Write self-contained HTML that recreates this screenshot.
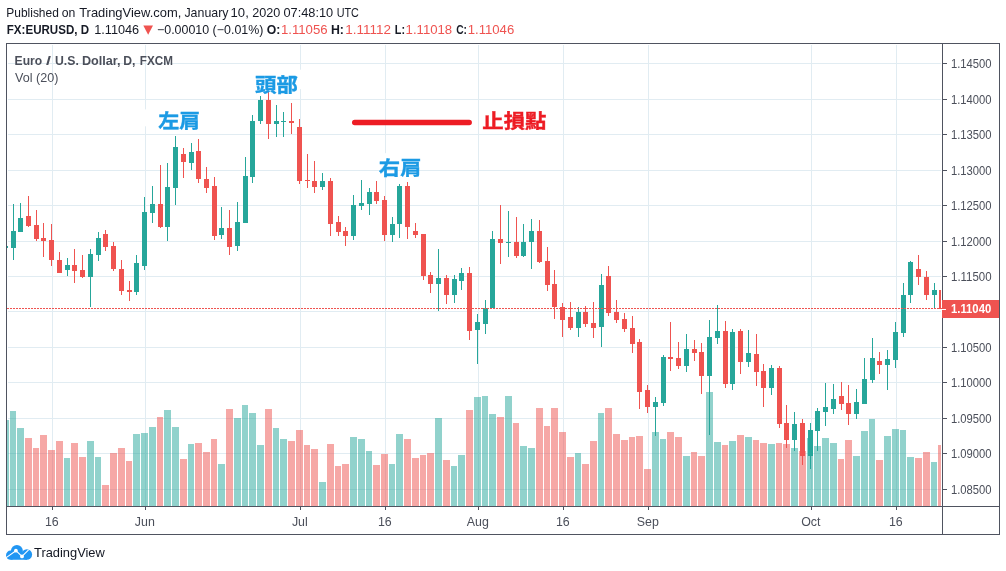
<!DOCTYPE html>
<html lang="en"><head><meta charset="utf-8"><title>EURUSD</title>
<style>html,body{margin:0;padding:0;background:#fff;width:1006px;height:571px;overflow:hidden}</style></head>
<body>
<svg width="1006" height="571" viewBox="0 0 1006 571" style="display:block;position:absolute;left:0;top:0">
<rect width="1006" height="571" fill="#fff"/>
<defs><clipPath id="plot"><rect x="7" y="44" width="934" height="462"/></clipPath></defs>
<g shape-rendering="crispEdges" fill="#e1ecf2">
<rect x="8" y="63" width="933" height="1"/>
<rect x="8" y="99" width="933" height="1"/>
<rect x="8" y="134" width="933" height="1"/>
<rect x="8" y="170" width="933" height="1"/>
<rect x="8" y="205" width="933" height="1"/>
<rect x="8" y="241" width="933" height="1"/>
<rect x="8" y="276" width="933" height="1"/>
<rect x="8" y="311" width="933" height="1"/>
<rect x="8" y="347" width="933" height="1"/>
<rect x="8" y="382" width="933" height="1"/>
<rect x="8" y="418" width="933" height="1"/>
<rect x="8" y="453" width="933" height="1"/>
<rect x="8" y="489" width="933" height="1"/>
<rect x="52" y="45" width="1" height="461"/>
<rect x="145" y="45" width="1" height="461"/>
<rect x="300" y="45" width="1" height="461"/>
<rect x="385" y="45" width="1" height="461"/>
<rect x="478" y="45" width="1" height="461"/>
<rect x="563" y="45" width="1" height="461"/>
<rect x="648" y="45" width="1" height="461"/>
<rect x="811" y="45" width="1" height="461"/>
<rect x="896" y="45" width="1" height="461"/>
</g>
<g clip-path="url(#plot)" shape-rendering="crispEdges">
<g opacity="0.5">
<rect x="2" y="420" width="7" height="86" fill="#26a69a"/>
<rect x="10" y="411" width="6" height="95" fill="#26a69a"/>
<rect x="17" y="428" width="7" height="78" fill="#26a69a"/>
<rect x="25" y="438" width="7" height="68" fill="#ef5350"/>
<rect x="33" y="448" width="6" height="58" fill="#ef5350"/>
<rect x="40" y="435" width="7" height="71" fill="#ef5350"/>
<rect x="48" y="450" width="7" height="56" fill="#ef5350"/>
<rect x="56" y="441" width="7" height="65" fill="#ef5350"/>
<rect x="64" y="458" width="6" height="48" fill="#26a69a"/>
<rect x="71" y="443" width="7" height="63" fill="#ef5350"/>
<rect x="79" y="457" width="7" height="49" fill="#ef5350"/>
<rect x="87" y="441" width="7" height="65" fill="#26a69a"/>
<rect x="95" y="457" width="6" height="49" fill="#26a69a"/>
<rect x="102" y="485" width="7" height="21" fill="#ef5350"/>
<rect x="110" y="453" width="7" height="53" fill="#ef5350"/>
<rect x="118" y="448" width="7" height="58" fill="#ef5350"/>
<rect x="126" y="461" width="6" height="45" fill="#ef5350"/>
<rect x="133" y="434" width="7" height="72" fill="#26a69a"/>
<rect x="141" y="433" width="7" height="73" fill="#26a69a"/>
<rect x="149" y="427" width="7" height="79" fill="#26a69a"/>
<rect x="157" y="417" width="6" height="89" fill="#ef5350"/>
<rect x="164" y="410" width="7" height="96" fill="#26a69a"/>
<rect x="172" y="427" width="7" height="79" fill="#26a69a"/>
<rect x="180" y="459" width="7" height="47" fill="#ef5350"/>
<rect x="188" y="444" width="6" height="62" fill="#26a69a"/>
<rect x="195" y="443" width="7" height="63" fill="#ef5350"/>
<rect x="203" y="452" width="7" height="54" fill="#ef5350"/>
<rect x="211" y="439" width="6" height="67" fill="#ef5350"/>
<rect x="218" y="464" width="7" height="42" fill="#26a69a"/>
<rect x="226" y="409" width="7" height="97" fill="#ef5350"/>
<rect x="234" y="418" width="7" height="88" fill="#26a69a"/>
<rect x="242" y="405" width="6" height="101" fill="#26a69a"/>
<rect x="249" y="413" width="7" height="93" fill="#26a69a"/>
<rect x="257" y="445" width="7" height="61" fill="#26a69a"/>
<rect x="265" y="409" width="7" height="97" fill="#ef5350"/>
<rect x="273" y="428" width="6" height="78" fill="#26a69a"/>
<rect x="280" y="439" width="7" height="67" fill="#26a69a"/>
<rect x="288" y="441" width="7" height="65" fill="#ef5350"/>
<rect x="296" y="430" width="7" height="76" fill="#ef5350"/>
<rect x="304" y="445" width="6" height="61" fill="#ef5350"/>
<rect x="311" y="449" width="7" height="57" fill="#ef5350"/>
<rect x="319" y="482" width="7" height="24" fill="#26a69a"/>
<rect x="327" y="444" width="7" height="62" fill="#ef5350"/>
<rect x="335" y="466" width="6" height="40" fill="#ef5350"/>
<rect x="342" y="464" width="7" height="42" fill="#ef5350"/>
<rect x="350" y="437" width="7" height="69" fill="#26a69a"/>
<rect x="358" y="439" width="7" height="67" fill="#26a69a"/>
<rect x="366" y="451" width="6" height="55" fill="#26a69a"/>
<rect x="373" y="465" width="7" height="41" fill="#ef5350"/>
<rect x="381" y="454" width="7" height="52" fill="#ef5350"/>
<rect x="389" y="464" width="6" height="42" fill="#26a69a"/>
<rect x="396" y="434" width="7" height="72" fill="#26a69a"/>
<rect x="404" y="439" width="7" height="67" fill="#ef5350"/>
<rect x="412" y="458" width="7" height="48" fill="#ef5350"/>
<rect x="420" y="455" width="6" height="51" fill="#ef5350"/>
<rect x="427" y="453" width="7" height="53" fill="#ef5350"/>
<rect x="435" y="418" width="7" height="88" fill="#26a69a"/>
<rect x="443" y="460" width="7" height="46" fill="#ef5350"/>
<rect x="451" y="466" width="6" height="40" fill="#26a69a"/>
<rect x="458" y="455" width="7" height="51" fill="#26a69a"/>
<rect x="466" y="410" width="7" height="96" fill="#ef5350"/>
<rect x="474" y="397" width="7" height="109" fill="#26a69a"/>
<rect x="482" y="396" width="6" height="110" fill="#26a69a"/>
<rect x="489" y="414" width="7" height="92" fill="#26a69a"/>
<rect x="497" y="417" width="7" height="89" fill="#ef5350"/>
<rect x="505" y="396" width="7" height="110" fill="#26a69a"/>
<rect x="513" y="423" width="6" height="83" fill="#ef5350"/>
<rect x="520" y="446" width="7" height="60" fill="#26a69a"/>
<rect x="528" y="448" width="7" height="58" fill="#26a69a"/>
<rect x="536" y="408" width="7" height="98" fill="#ef5350"/>
<rect x="544" y="426" width="6" height="80" fill="#ef5350"/>
<rect x="551" y="408" width="7" height="98" fill="#ef5350"/>
<rect x="559" y="432" width="7" height="74" fill="#ef5350"/>
<rect x="567" y="457" width="7" height="49" fill="#ef5350"/>
<rect x="575" y="453" width="6" height="53" fill="#26a69a"/>
<rect x="582" y="464" width="7" height="42" fill="#ef5350"/>
<rect x="590" y="441" width="7" height="65" fill="#ef5350"/>
<rect x="598" y="413" width="6" height="93" fill="#26a69a"/>
<rect x="605" y="408" width="7" height="98" fill="#ef5350"/>
<rect x="613" y="434" width="7" height="72" fill="#ef5350"/>
<rect x="621" y="440" width="7" height="66" fill="#ef5350"/>
<rect x="629" y="437" width="6" height="69" fill="#ef5350"/>
<rect x="636" y="436" width="7" height="70" fill="#ef5350"/>
<rect x="644" y="469" width="7" height="37" fill="#ef5350"/>
<rect x="652" y="432" width="7" height="74" fill="#26a69a"/>
<rect x="660" y="439" width="6" height="67" fill="#26a69a"/>
<rect x="667" y="432" width="7" height="74" fill="#ef5350"/>
<rect x="675" y="437" width="7" height="69" fill="#ef5350"/>
<rect x="683" y="456" width="7" height="50" fill="#26a69a"/>
<rect x="691" y="452" width="6" height="54" fill="#ef5350"/>
<rect x="698" y="456" width="7" height="50" fill="#ef5350"/>
<rect x="706" y="392" width="7" height="114" fill="#26a69a"/>
<rect x="714" y="442" width="7" height="64" fill="#26a69a"/>
<rect x="722" y="445" width="6" height="61" fill="#ef5350"/>
<rect x="729" y="441" width="7" height="65" fill="#26a69a"/>
<rect x="737" y="435" width="7" height="71" fill="#ef5350"/>
<rect x="745" y="437" width="7" height="69" fill="#26a69a"/>
<rect x="753" y="440" width="6" height="66" fill="#ef5350"/>
<rect x="760" y="443" width="7" height="63" fill="#ef5350"/>
<rect x="768" y="444" width="7" height="62" fill="#26a69a"/>
<rect x="776" y="443" width="6" height="63" fill="#ef5350"/>
<rect x="783" y="444" width="7" height="62" fill="#ef5350"/>
<rect x="791" y="448" width="7" height="58" fill="#26a69a"/>
<rect x="799" y="451" width="7" height="55" fill="#ef5350"/>
<rect x="807" y="438" width="6" height="68" fill="#26a69a"/>
<rect x="814" y="446" width="7" height="60" fill="#26a69a"/>
<rect x="822" y="438" width="7" height="68" fill="#26a69a"/>
<rect x="830" y="443" width="7" height="63" fill="#26a69a"/>
<rect x="838" y="459" width="6" height="47" fill="#ef5350"/>
<rect x="845" y="440" width="7" height="66" fill="#ef5350"/>
<rect x="853" y="456" width="7" height="50" fill="#26a69a"/>
<rect x="861" y="431" width="7" height="75" fill="#26a69a"/>
<rect x="869" y="419" width="6" height="87" fill="#26a69a"/>
<rect x="876" y="460" width="7" height="46" fill="#ef5350"/>
<rect x="884" y="436" width="7" height="70" fill="#26a69a"/>
<rect x="892" y="429" width="7" height="77" fill="#26a69a"/>
<rect x="900" y="430" width="6" height="76" fill="#26a69a"/>
<rect x="907" y="457" width="7" height="49" fill="#26a69a"/>
<rect x="915" y="458" width="7" height="48" fill="#ef5350"/>
<rect x="923" y="452" width="7" height="54" fill="#ef5350"/>
<rect x="931" y="462" width="6" height="44" fill="#26a69a"/>
<rect x="938" y="445" width="7" height="61" fill="#ef5350"/>
</g>
<rect x="5" y="240" width="1" height="12" fill="#26a69a"/><rect x="3" y="246" width="5" height="2" fill="#26a69a"/>
<rect x="13" y="204" width="1" height="56" fill="#26a69a"/><rect x="11" y="231" width="5" height="17" fill="#26a69a"/>
<rect x="20" y="203" width="1" height="29" fill="#26a69a"/><rect x="18" y="218" width="5" height="14" fill="#26a69a"/>
<rect x="28" y="196" width="1" height="31" fill="#ef5350"/><rect x="26" y="216" width="5" height="10" fill="#ef5350"/>
<rect x="36" y="210" width="1" height="31" fill="#ef5350"/><rect x="34" y="225" width="5" height="14" fill="#ef5350"/>
<rect x="43" y="223" width="1" height="34" fill="#ef5350"/><rect x="41" y="238" width="5" height="3" fill="#ef5350"/>
<rect x="51" y="224" width="1" height="42" fill="#ef5350"/><rect x="49" y="240" width="5" height="20" fill="#ef5350"/>
<rect x="59" y="252" width="1" height="21" fill="#ef5350"/><rect x="57" y="260" width="5" height="13" fill="#ef5350"/>
<rect x="67" y="258" width="1" height="18" fill="#26a69a"/><rect x="65" y="265" width="5" height="5" fill="#26a69a"/>
<rect x="74" y="249" width="1" height="34" fill="#ef5350"/><rect x="72" y="265" width="5" height="6" fill="#ef5350"/>
<rect x="82" y="255" width="1" height="23" fill="#ef5350"/><rect x="80" y="270" width="5" height="7" fill="#ef5350"/>
<rect x="90" y="249" width="1" height="58" fill="#26a69a"/><rect x="88" y="254" width="5" height="23" fill="#26a69a"/>
<rect x="98" y="232" width="1" height="29" fill="#26a69a"/><rect x="96" y="238" width="5" height="17" fill="#26a69a"/>
<rect x="105" y="230" width="1" height="21" fill="#ef5350"/><rect x="103" y="234" width="5" height="13" fill="#ef5350"/>
<rect x="113" y="242" width="1" height="29" fill="#ef5350"/><rect x="111" y="246" width="5" height="23" fill="#ef5350"/>
<rect x="121" y="260" width="1" height="35" fill="#ef5350"/><rect x="119" y="269" width="5" height="22" fill="#ef5350"/>
<rect x="129" y="281" width="1" height="20" fill="#ef5350"/><rect x="127" y="290" width="5" height="2" fill="#ef5350"/>
<rect x="136" y="255" width="1" height="40" fill="#26a69a"/><rect x="134" y="263" width="5" height="29" fill="#26a69a"/>
<rect x="144" y="197" width="1" height="73" fill="#26a69a"/><rect x="142" y="212" width="5" height="54" fill="#26a69a"/>
<rect x="152" y="186" width="1" height="37" fill="#26a69a"/><rect x="150" y="204" width="5" height="9" fill="#26a69a"/>
<rect x="160" y="165" width="1" height="63" fill="#ef5350"/><rect x="158" y="204" width="5" height="23" fill="#ef5350"/>
<rect x="167" y="163" width="1" height="78" fill="#26a69a"/><rect x="165" y="187" width="5" height="40" fill="#26a69a"/>
<rect x="175" y="136" width="1" height="69" fill="#26a69a"/><rect x="173" y="147" width="5" height="41" fill="#26a69a"/>
<rect x="183" y="148" width="1" height="30" fill="#ef5350"/><rect x="181" y="154" width="5" height="8" fill="#ef5350"/>
<rect x="191" y="143" width="1" height="27" fill="#26a69a"/><rect x="189" y="152" width="5" height="11" fill="#26a69a"/>
<rect x="198" y="139" width="1" height="44" fill="#ef5350"/><rect x="196" y="151" width="5" height="28" fill="#ef5350"/>
<rect x="206" y="167" width="1" height="26" fill="#ef5350"/><rect x="204" y="179" width="5" height="9" fill="#ef5350"/>
<rect x="214" y="177" width="1" height="63" fill="#ef5350"/><rect x="212" y="186" width="5" height="50" fill="#ef5350"/>
<rect x="221" y="207" width="1" height="32" fill="#26a69a"/><rect x="219" y="228" width="5" height="7" fill="#26a69a"/>
<rect x="229" y="210" width="1" height="45" fill="#ef5350"/><rect x="227" y="228" width="5" height="19" fill="#ef5350"/>
<rect x="237" y="202" width="1" height="49" fill="#26a69a"/><rect x="235" y="222" width="5" height="24" fill="#26a69a"/>
<rect x="245" y="157" width="1" height="66" fill="#26a69a"/><rect x="243" y="176" width="5" height="47" fill="#26a69a"/>
<rect x="252" y="115" width="1" height="68" fill="#26a69a"/><rect x="250" y="121" width="5" height="56" fill="#26a69a"/>
<rect x="260" y="96" width="1" height="28" fill="#26a69a"/><rect x="258" y="100" width="5" height="21" fill="#26a69a"/>
<rect x="268" y="92" width="1" height="47" fill="#ef5350"/><rect x="266" y="100" width="5" height="24" fill="#ef5350"/>
<rect x="276" y="105" width="1" height="32" fill="#26a69a"/><rect x="274" y="121" width="5" height="3" fill="#26a69a"/>
<rect x="283" y="112" width="1" height="25" fill="#26a69a"/><rect x="281" y="121" width="5" height="1" fill="#26a69a"/>
<rect x="291" y="103" width="1" height="31" fill="#ef5350"/><rect x="289" y="121" width="5" height="2" fill="#ef5350"/>
<rect x="299" y="119" width="1" height="65" fill="#ef5350"/><rect x="297" y="127" width="5" height="54" fill="#ef5350"/>
<rect x="307" y="154" width="1" height="34" fill="#ef5350"/><rect x="305" y="180" width="5" height="1" fill="#ef5350"/>
<rect x="314" y="161" width="1" height="32" fill="#ef5350"/><rect x="312" y="181" width="5" height="6" fill="#ef5350"/>
<rect x="322" y="173" width="1" height="17" fill="#26a69a"/><rect x="320" y="181" width="5" height="6" fill="#26a69a"/>
<rect x="330" y="178" width="1" height="58" fill="#ef5350"/><rect x="328" y="181" width="5" height="43" fill="#ef5350"/>
<rect x="338" y="216" width="1" height="20" fill="#ef5350"/><rect x="336" y="222" width="5" height="10" fill="#ef5350"/>
<rect x="345" y="227" width="1" height="19" fill="#ef5350"/><rect x="343" y="231" width="5" height="5" fill="#ef5350"/>
<rect x="353" y="195" width="1" height="45" fill="#26a69a"/><rect x="351" y="205" width="5" height="31" fill="#26a69a"/>
<rect x="361" y="180" width="1" height="30" fill="#26a69a"/><rect x="359" y="203" width="5" height="3" fill="#26a69a"/>
<rect x="369" y="188" width="1" height="27" fill="#26a69a"/><rect x="367" y="192" width="5" height="12" fill="#26a69a"/>
<rect x="376" y="181" width="1" height="23" fill="#ef5350"/><rect x="374" y="192" width="5" height="9" fill="#ef5350"/>
<rect x="384" y="196" width="1" height="45" fill="#ef5350"/><rect x="382" y="200" width="5" height="35" fill="#ef5350"/>
<rect x="392" y="217" width="1" height="25" fill="#26a69a"/><rect x="390" y="224" width="5" height="11" fill="#26a69a"/>
<rect x="399" y="184" width="1" height="54" fill="#26a69a"/><rect x="397" y="186" width="5" height="38" fill="#26a69a"/>
<rect x="407" y="182" width="1" height="57" fill="#ef5350"/><rect x="405" y="186" width="5" height="41" fill="#ef5350"/>
<rect x="415" y="223" width="1" height="15" fill="#ef5350"/><rect x="413" y="231" width="5" height="4" fill="#ef5350"/>
<rect x="423" y="234" width="1" height="46" fill="#ef5350"/><rect x="421" y="234" width="5" height="42" fill="#ef5350"/>
<rect x="430" y="272" width="1" height="21" fill="#ef5350"/><rect x="428" y="275" width="5" height="9" fill="#ef5350"/>
<rect x="438" y="249" width="1" height="62" fill="#26a69a"/><rect x="436" y="278" width="5" height="6" fill="#26a69a"/>
<rect x="446" y="275" width="1" height="29" fill="#ef5350"/><rect x="444" y="278" width="5" height="17" fill="#ef5350"/>
<rect x="454" y="275" width="1" height="28" fill="#26a69a"/><rect x="452" y="279" width="5" height="16" fill="#26a69a"/>
<rect x="461" y="268" width="1" height="22" fill="#26a69a"/><rect x="459" y="273" width="5" height="8" fill="#26a69a"/>
<rect x="469" y="267" width="1" height="73" fill="#ef5350"/><rect x="467" y="273" width="5" height="58" fill="#ef5350"/>
<rect x="477" y="314" width="1" height="50" fill="#26a69a"/><rect x="475" y="322" width="5" height="8" fill="#26a69a"/>
<rect x="485" y="300" width="1" height="34" fill="#26a69a"/><rect x="483" y="308" width="5" height="16" fill="#26a69a"/>
<rect x="492" y="231" width="1" height="77" fill="#26a69a"/><rect x="490" y="239" width="5" height="69" fill="#26a69a"/>
<rect x="500" y="205" width="1" height="59" fill="#ef5350"/><rect x="498" y="239" width="5" height="4" fill="#ef5350"/>
<rect x="508" y="211" width="1" height="46" fill="#26a69a"/><rect x="506" y="242" width="5" height="1" fill="#26a69a"/>
<rect x="516" y="217" width="1" height="41" fill="#ef5350"/><rect x="514" y="242" width="5" height="14" fill="#ef5350"/>
<rect x="523" y="224" width="1" height="33" fill="#26a69a"/><rect x="521" y="242" width="5" height="14" fill="#26a69a"/>
<rect x="531" y="219" width="1" height="50" fill="#26a69a"/><rect x="529" y="231" width="5" height="11" fill="#26a69a"/>
<rect x="539" y="220" width="1" height="43" fill="#ef5350"/><rect x="537" y="231" width="5" height="31" fill="#ef5350"/>
<rect x="547" y="247" width="1" height="44" fill="#ef5350"/><rect x="545" y="261" width="5" height="24" fill="#ef5350"/>
<rect x="554" y="270" width="1" height="49" fill="#ef5350"/><rect x="552" y="284" width="5" height="23" fill="#ef5350"/>
<rect x="562" y="303" width="1" height="34" fill="#ef5350"/><rect x="560" y="307" width="5" height="13" fill="#ef5350"/>
<rect x="570" y="302" width="1" height="28" fill="#ef5350"/><rect x="568" y="317" width="5" height="11" fill="#ef5350"/>
<rect x="578" y="307" width="1" height="30" fill="#26a69a"/><rect x="576" y="312" width="5" height="16" fill="#26a69a"/>
<rect x="585" y="306" width="1" height="21" fill="#ef5350"/><rect x="583" y="312" width="5" height="12" fill="#ef5350"/>
<rect x="593" y="302" width="1" height="36" fill="#ef5350"/><rect x="591" y="323" width="5" height="5" fill="#ef5350"/>
<rect x="601" y="274" width="1" height="73" fill="#26a69a"/><rect x="599" y="285" width="5" height="42" fill="#26a69a"/>
<rect x="608" y="266" width="1" height="50" fill="#ef5350"/><rect x="606" y="276" width="5" height="37" fill="#ef5350"/>
<rect x="616" y="300" width="1" height="23" fill="#ef5350"/><rect x="614" y="312" width="5" height="8" fill="#ef5350"/>
<rect x="624" y="313" width="1" height="19" fill="#ef5350"/><rect x="622" y="319" width="5" height="10" fill="#ef5350"/>
<rect x="632" y="316" width="1" height="37" fill="#ef5350"/><rect x="630" y="328" width="5" height="16" fill="#ef5350"/>
<rect x="639" y="339" width="1" height="70" fill="#ef5350"/><rect x="637" y="342" width="5" height="50" fill="#ef5350"/>
<rect x="647" y="385" width="1" height="28" fill="#ef5350"/><rect x="645" y="390" width="5" height="17" fill="#ef5350"/>
<rect x="655" y="397" width="1" height="39" fill="#26a69a"/><rect x="653" y="402" width="5" height="5" fill="#26a69a"/>
<rect x="663" y="355" width="1" height="51" fill="#26a69a"/><rect x="661" y="357" width="5" height="46" fill="#26a69a"/>
<rect x="670" y="322" width="1" height="49" fill="#ef5350"/><rect x="668" y="357" width="5" height="2" fill="#ef5350"/>
<rect x="678" y="342" width="1" height="27" fill="#ef5350"/><rect x="676" y="358" width="5" height="8" fill="#ef5350"/>
<rect x="686" y="334" width="1" height="38" fill="#26a69a"/><rect x="684" y="349" width="5" height="17" fill="#26a69a"/>
<rect x="694" y="340" width="1" height="21" fill="#ef5350"/><rect x="692" y="349" width="5" height="4" fill="#ef5350"/>
<rect x="701" y="343" width="1" height="51" fill="#ef5350"/><rect x="699" y="352" width="5" height="24" fill="#ef5350"/>
<rect x="709" y="320" width="1" height="115" fill="#26a69a"/><rect x="707" y="337" width="5" height="39" fill="#26a69a"/>
<rect x="717" y="305" width="1" height="39" fill="#26a69a"/><rect x="715" y="331" width="5" height="7" fill="#26a69a"/>
<rect x="725" y="321" width="1" height="67" fill="#ef5350"/><rect x="723" y="331" width="5" height="53" fill="#ef5350"/>
<rect x="732" y="329" width="1" height="61" fill="#26a69a"/><rect x="730" y="332" width="5" height="52" fill="#26a69a"/>
<rect x="740" y="329" width="1" height="45" fill="#ef5350"/><rect x="738" y="331" width="5" height="31" fill="#ef5350"/>
<rect x="748" y="330" width="1" height="37" fill="#26a69a"/><rect x="746" y="353" width="5" height="9" fill="#26a69a"/>
<rect x="756" y="334" width="1" height="52" fill="#ef5350"/><rect x="754" y="354" width="5" height="18" fill="#ef5350"/>
<rect x="763" y="364" width="1" height="43" fill="#ef5350"/><rect x="761" y="371" width="5" height="17" fill="#ef5350"/>
<rect x="771" y="365" width="1" height="30" fill="#26a69a"/><rect x="769" y="368" width="5" height="20" fill="#26a69a"/>
<rect x="779" y="366" width="1" height="62" fill="#ef5350"/><rect x="777" y="368" width="5" height="56" fill="#ef5350"/>
<rect x="786" y="405" width="1" height="43" fill="#ef5350"/><rect x="784" y="423" width="5" height="17" fill="#ef5350"/>
<rect x="794" y="412" width="1" height="39" fill="#26a69a"/><rect x="792" y="424" width="5" height="16" fill="#26a69a"/>
<rect x="802" y="419" width="1" height="46" fill="#ef5350"/><rect x="800" y="423" width="5" height="33" fill="#ef5350"/>
<rect x="810" y="423" width="1" height="46" fill="#26a69a"/><rect x="808" y="430" width="5" height="26" fill="#26a69a"/>
<rect x="817" y="408" width="1" height="43" fill="#26a69a"/><rect x="815" y="411" width="5" height="20" fill="#26a69a"/>
<rect x="825" y="383" width="1" height="43" fill="#26a69a"/><rect x="823" y="407" width="5" height="5" fill="#26a69a"/>
<rect x="833" y="384" width="1" height="30" fill="#26a69a"/><rect x="831" y="399" width="5" height="10" fill="#26a69a"/>
<rect x="841" y="382" width="1" height="28" fill="#ef5350"/><rect x="839" y="396" width="5" height="8" fill="#ef5350"/>
<rect x="848" y="385" width="1" height="40" fill="#ef5350"/><rect x="846" y="403" width="5" height="11" fill="#ef5350"/>
<rect x="856" y="389" width="1" height="30" fill="#26a69a"/><rect x="854" y="402" width="5" height="12" fill="#26a69a"/>
<rect x="864" y="358" width="1" height="46" fill="#26a69a"/><rect x="862" y="379" width="5" height="25" fill="#26a69a"/>
<rect x="872" y="338" width="1" height="45" fill="#26a69a"/><rect x="870" y="358" width="5" height="22" fill="#26a69a"/>
<rect x="879" y="352" width="1" height="22" fill="#ef5350"/><rect x="877" y="361" width="5" height="4" fill="#ef5350"/>
<rect x="887" y="350" width="1" height="40" fill="#26a69a"/><rect x="885" y="359" width="5" height="6" fill="#26a69a"/>
<rect x="895" y="322" width="1" height="46" fill="#26a69a"/><rect x="893" y="332" width="5" height="28" fill="#26a69a"/>
<rect x="903" y="283" width="1" height="54" fill="#26a69a"/><rect x="901" y="295" width="5" height="38" fill="#26a69a"/>
<rect x="910" y="261" width="1" height="42" fill="#26a69a"/><rect x="908" y="262" width="5" height="33" fill="#26a69a"/>
<rect x="918" y="255" width="1" height="30" fill="#ef5350"/><rect x="916" y="269" width="5" height="8" fill="#ef5350"/>
<rect x="926" y="271" width="1" height="29" fill="#ef5350"/><rect x="924" y="277" width="5" height="18" fill="#ef5350"/>
<rect x="934" y="283" width="1" height="25" fill="#26a69a"/><rect x="932" y="290" width="5" height="5" fill="#26a69a"/>
<rect x="941" y="285" width="1" height="27" fill="#ef5350"/><rect x="939" y="290" width="5" height="19" fill="#ef5350"/>
</g>
<line x1="7" y1="308.5" x2="942" y2="308.5" stroke="#ef5350" stroke-width="1" stroke-dasharray="2 1" shape-rendering="crispEdges"/>
<g shape-rendering="crispEdges" fill="#4f5360">
<rect x="6" y="43" width="994" height="1"/>
<rect x="6" y="534" width="994" height="1"/>
<rect x="6" y="43" width="1" height="492"/>
<rect x="999" y="43" width="1" height="492"/>
<rect x="942" y="43" width="1" height="492"/>
<rect x="6" y="506" width="994" height="1"/>
<rect x="943" y="63" width="4" height="1"/>
<rect x="943" y="99" width="4" height="1"/>
<rect x="943" y="134" width="4" height="1"/>
<rect x="943" y="170" width="4" height="1"/>
<rect x="943" y="205" width="4" height="1"/>
<rect x="943" y="241" width="4" height="1"/>
<rect x="943" y="276" width="4" height="1"/>
<rect x="943" y="347" width="4" height="1"/>
<rect x="943" y="382" width="4" height="1"/>
<rect x="943" y="418" width="4" height="1"/>
<rect x="943" y="453" width="4" height="1"/>
<rect x="943" y="489" width="4" height="1"/>
<rect x="52" y="507" width="1" height="3"/>
<rect x="145" y="507" width="1" height="3"/>
<rect x="300" y="507" width="1" height="3"/>
<rect x="385" y="507" width="1" height="3"/>
<rect x="478" y="507" width="1" height="3"/>
<rect x="563" y="507" width="1" height="3"/>
<rect x="648" y="507" width="1" height="3"/>
<rect x="811" y="507" width="1" height="3"/>
<rect x="896" y="507" width="1" height="3"/>
</g>
<g font-family="Liberation Sans, Arial, sans-serif" font-size="11" fill="#4b4f5a">
<text x="951" y="67.9" font-size="12.2" textLength="40.6" lengthAdjust="spacingAndGlyphs">1.14500</text>
<text x="951" y="103.9" font-size="12.2" textLength="40.6" lengthAdjust="spacingAndGlyphs">1.14000</text>
<text x="951" y="138.9" font-size="12.2" textLength="40.6" lengthAdjust="spacingAndGlyphs">1.13500</text>
<text x="951" y="174.9" font-size="12.2" textLength="40.6" lengthAdjust="spacingAndGlyphs">1.13000</text>
<text x="951" y="209.9" font-size="12.2" textLength="40.6" lengthAdjust="spacingAndGlyphs">1.12500</text>
<text x="951" y="245.9" font-size="12.2" textLength="40.6" lengthAdjust="spacingAndGlyphs">1.12000</text>
<text x="951" y="280.9" font-size="12.2" textLength="40.6" lengthAdjust="spacingAndGlyphs">1.11500</text>
<text x="951" y="351.9" font-size="12.2" textLength="40.6" lengthAdjust="spacingAndGlyphs">1.10500</text>
<text x="951" y="386.9" font-size="12.2" textLength="40.6" lengthAdjust="spacingAndGlyphs">1.10000</text>
<text x="951" y="422.9" font-size="12.2" textLength="40.6" lengthAdjust="spacingAndGlyphs">1.09500</text>
<text x="951" y="457.9" font-size="12.2" textLength="40.6" lengthAdjust="spacingAndGlyphs">1.09000</text>
<text x="951" y="493.9" font-size="12.2" textLength="40.6" lengthAdjust="spacingAndGlyphs">1.08500</text>
<text x="51.8" y="526.1" font-size="12.4" text-anchor="middle">16</text>
<text x="144.8" y="526.1" font-size="12.4" text-anchor="middle">Jun</text>
<text x="299.8" y="526.1" font-size="12.4" text-anchor="middle">Jul</text>
<text x="384.8" y="526.1" font-size="12.4" text-anchor="middle">16</text>
<text x="477.8" y="526.1" font-size="12.4" text-anchor="middle">Aug</text>
<text x="562.8" y="526.1" font-size="12.4" text-anchor="middle">16</text>
<text x="647.8" y="526.1" font-size="12.4" text-anchor="middle">Sep</text>
<text x="810.8" y="526.1" font-size="12.4" text-anchor="middle">Oct</text>
<text x="895.8" y="526.1" font-size="12.4" text-anchor="middle">16</text>
</g>
<rect x="942" y="300" width="57" height="18" fill="#ef5350" shape-rendering="crispEdges"/>
<rect x="942" y="309" width="4" height="1" fill="#fff" shape-rendering="crispEdges"/>
<text x="951" y="312.8" font-family="Liberation Sans, Arial, sans-serif" font-size="12.2" font-weight="bold" fill="#fff" textLength="40.2" lengthAdjust="spacingAndGlyphs">1.11040</text>
<text x="14.6" y="65" font-family="Liberation Sans, Arial, sans-serif" font-size="12.5" font-weight="bold" fill="#4b4f5a" textLength="27.6" lengthAdjust="spacingAndGlyphs">Euro</text>
<text x="46.0" y="65" font-family="Liberation Sans, Arial, sans-serif" font-size="12.5" font-weight="bold" fill="#4b4f5a" textLength="5.0" lengthAdjust="spacingAndGlyphs">/</text>
<text x="55.0" y="65" font-family="Liberation Sans, Arial, sans-serif" font-size="12.5" font-weight="bold" fill="#4b4f5a" textLength="23.8" lengthAdjust="spacingAndGlyphs">U.S.</text>
<text x="81.9" y="65" font-family="Liberation Sans, Arial, sans-serif" font-size="12.5" font-weight="bold" fill="#4b4f5a" textLength="38.7" lengthAdjust="spacingAndGlyphs">Dollar,</text>
<text x="123.2" y="65" font-family="Liberation Sans, Arial, sans-serif" font-size="12.5" font-weight="bold" fill="#4b4f5a" textLength="12.2" lengthAdjust="spacingAndGlyphs">D,</text>
<text x="139.8" y="65" font-family="Liberation Sans, Arial, sans-serif" font-size="12.5" font-weight="bold" fill="#4b4f5a" textLength="33.1" lengthAdjust="spacingAndGlyphs">FXCM</text>
<text x="15.0" y="81.5" font-family="Liberation Sans, Arial, sans-serif" font-size="12.5" fill="#4b4f5a" textLength="43.4" lengthAdjust="spacingAndGlyphs">Vol (20)</text>
<text x="6.3" y="16.5" font-family="Liberation Sans, Arial, sans-serif" font-size="12.2" fill="#161a25" textLength="52.5" lengthAdjust="spacingAndGlyphs">Published</text>
<text x="61.8" y="16.5" font-family="Liberation Sans, Arial, sans-serif" font-size="12.2" fill="#161a25" textLength="13.6" lengthAdjust="spacingAndGlyphs">on</text>
<text x="79.2" y="16.5" font-family="Liberation Sans, Arial, sans-serif" font-size="12.2" fill="#161a25" textLength="102.1" lengthAdjust="spacingAndGlyphs">TradingView.com,</text>
<text x="184.4" y="16.5" font-family="Liberation Sans, Arial, sans-serif" font-size="12.2" fill="#161a25" textLength="44.1" lengthAdjust="spacingAndGlyphs">January</text>
<text x="230.6" y="16.5" font-family="Liberation Sans, Arial, sans-serif" font-size="12.2" fill="#161a25" textLength="18.2" lengthAdjust="spacingAndGlyphs">10,</text>
<text x="252.2" y="16.5" font-family="Liberation Sans, Arial, sans-serif" font-size="12.2" fill="#161a25" textLength="28.1" lengthAdjust="spacingAndGlyphs">2020</text>
<text x="283.5" y="16.5" font-family="Liberation Sans, Arial, sans-serif" font-size="12.2" fill="#161a25" textLength="49.7" lengthAdjust="spacingAndGlyphs">07:48:10</text>
<text x="336.7" y="16.5" font-family="Liberation Sans, Arial, sans-serif" font-size="12.2" fill="#161a25" textLength="22.2" lengthAdjust="spacingAndGlyphs">UTC</text>
<text x="6.8" y="33.5" font-family="Liberation Sans, Arial, sans-serif" font-size="12.2" font-weight="bold" fill="#161a25" textLength="82.2" lengthAdjust="spacingAndGlyphs">FX:EURUSD, D</text>
<text x="94.2" y="33.5" font-family="Liberation Sans, Arial, sans-serif" font-size="12.2" fill="#161a25" textLength="45.0" lengthAdjust="spacingAndGlyphs">1.11046</text>
<path d="M143.3 25.4 L153 25.4 L148.15 34.7 Z" fill="#ef5350"/>
<text x="157.0" y="33.5" font-family="Liberation Sans, Arial, sans-serif" font-size="12.2" fill="#161a25" textLength="106.4" lengthAdjust="spacingAndGlyphs">−0.00010 (−0.01%)</text>
<text x="266.8" y="33.5" font-family="Liberation Sans, Arial, sans-serif" font-size="12.2" font-weight="bold" fill="#161a25" textLength="13.6" lengthAdjust="spacingAndGlyphs">O:</text>
<text x="280.9" y="33.5" font-family="Liberation Sans, Arial, sans-serif" font-size="12.2" fill="#ef5350" textLength="46.7" lengthAdjust="spacingAndGlyphs">1.11056</text>
<text x="330.9" y="33.5" font-family="Liberation Sans, Arial, sans-serif" font-size="12.2" font-weight="bold" fill="#161a25" textLength="13.0" lengthAdjust="spacingAndGlyphs">H:</text>
<text x="345.2" y="33.5" font-family="Liberation Sans, Arial, sans-serif" font-size="12.2" fill="#ef5350" textLength="45.8" lengthAdjust="spacingAndGlyphs">1.11112</text>
<text x="394.8" y="33.5" font-family="Liberation Sans, Arial, sans-serif" font-size="12.2" font-weight="bold" fill="#161a25" textLength="10.2" lengthAdjust="spacingAndGlyphs">L:</text>
<text x="405.6" y="33.5" font-family="Liberation Sans, Arial, sans-serif" font-size="12.2" fill="#ef5350" textLength="46.6" lengthAdjust="spacingAndGlyphs">1.11018</text>
<text x="456.2" y="33.5" font-family="Liberation Sans, Arial, sans-serif" font-size="12.2" font-weight="bold" fill="#161a25" textLength="10.8" lengthAdjust="spacingAndGlyphs">C:</text>
<text x="467.7" y="33.5" font-family="Liberation Sans, Arial, sans-serif" font-size="12.2" fill="#ef5350" textLength="46.5" lengthAdjust="spacingAndGlyphs">1.11046</text>
<rect x="144" y="109.4" width="70" height="16.89999999999999" fill="#fff"/>
<text x="158.3" y="127.5" lang="ja" xml:lang="ja" font-family="Liberation Sans, Noto Sans CJK JP, Noto Sans CJK TC, sans-serif" font-weight="bold" font-size="19.7" fill="#1b9ae4" stroke="#1b9ae4" stroke-width="0.4" textLength="42" lengthAdjust="spacingAndGlyphs">左肩</text>
<rect x="250" y="69.7" width="52" height="19.39999999999999" fill="#fff"/>
<text x="255.0" y="91.5" lang="ja" xml:lang="ja" font-family="Liberation Sans, Noto Sans CJK JP, Noto Sans CJK TC, sans-serif" font-weight="bold" font-size="19.7" fill="#1b9ae4" stroke="#1b9ae4" stroke-width="0.4" textLength="42.8" lengthAdjust="spacingAndGlyphs">頭部</text>
<rect x="375" y="153.2" width="50" height="16.600000000000023" fill="#fff"/>
<text x="378.8" y="174.5" lang="ja" xml:lang="ja" font-family="Liberation Sans, Noto Sans CJK JP, Noto Sans CJK TC, sans-serif" font-weight="bold" font-size="19.7" fill="#1b9ae4" stroke="#1b9ae4" stroke-width="0.4" textLength="42.7" lengthAdjust="spacingAndGlyphs">右肩</text>
<rect x="481" y="110" width="67" height="17" fill="#fff"/>
<text x="482.3" y="128" lang="ja" xml:lang="ja" font-family="Liberation Sans, Noto Sans CJK JP, Noto Sans CJK TC, sans-serif" font-weight="bold" font-size="19.7" fill="#ed1c24" stroke="#ed1c24" stroke-width="0.4" textLength="64" lengthAdjust="spacingAndGlyphs">止損點</text>
<line x1="354.7" y1="122.5" x2="469.2" y2="122.5" stroke="#ed1c24" stroke-width="5.4" stroke-linecap="round"/>
<g fill="#2196f3"><circle cx="10.6" cy="555.15" r="4.6"/><circle cx="16.9" cy="551" r="6"/><circle cx="26.8" cy="554.45" r="5.3"/><rect x="10.6" y="552" width="16.4" height="7.75"/></g>
<path d="M6.2 557.6 L15.9 550.7 L22 556.4 L28.6 549.8" fill="none" stroke="#fff" stroke-width="1.1" stroke-linejoin="round"/>
<circle cx="15.9" cy="550.7" r="1.9" fill="#fff"/><circle cx="22" cy="556.4" r="1.9" fill="#fff"/>
<text x="34" y="556.8" font-family="Liberation Sans, Arial, sans-serif" font-size="12.4" fill="#131722" textLength="70.8" lengthAdjust="spacingAndGlyphs">TradingView</text>
</svg>
</body></html>
